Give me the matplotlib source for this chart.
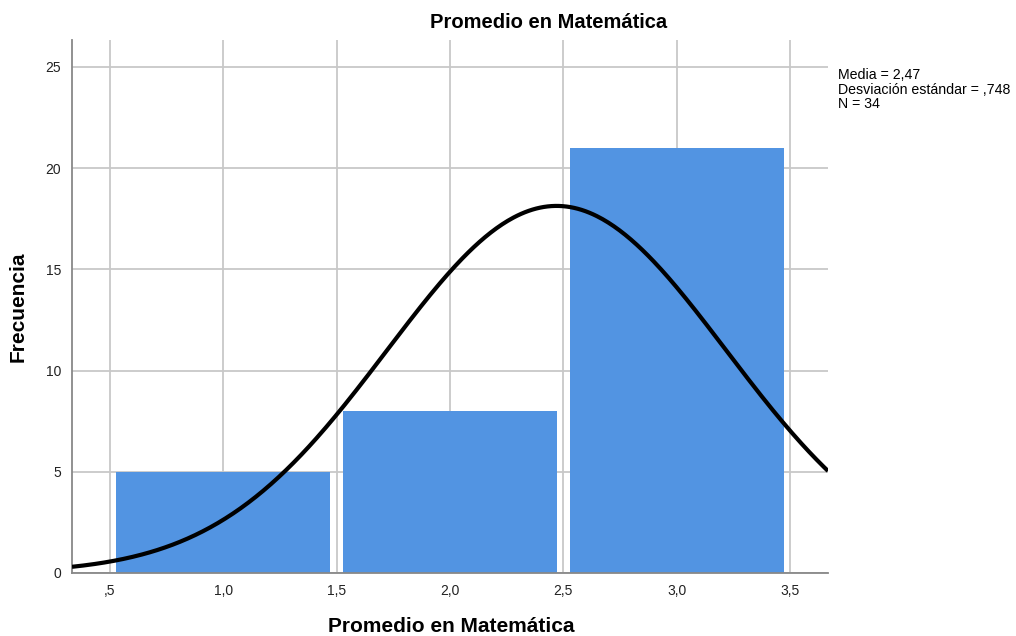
import numpy as np
import matplotlib
matplotlib.use("Agg")
import matplotlib.pyplot as plt

plt.rcParams['font.family'] = ['Liberation Sans', 'DejaVu Sans']

bin_centers = [1.0, 2.0, 3.0]
counts = [5, 8, 21]
mean = 2.47
sd = 0.748
n = 34
bin_width = 1.0
xticks = [0.5, 1.0, 1.5, 2.0, 2.5, 3.0, 3.5]
xticklabels = [",5", "1,0", "1,5", "2,0", "2,5", "3,0", "3,5"]
yticks = [0, 5, 10, 15, 20, 25]
stats_text = "Media = 2,47\nDesviación estándar = ,748\nN = 34"

fig = plt.figure(figsize=(10.16, 6.36), dpi=100)
ax = fig.add_axes([72/1016, 1-573/636, (828-72)/1016, (573-40)/636])

ax.bar(bin_centers, counts, width=bin_width*0.945, color='#5294E2', zorder=2)

xs = np.linspace(0.333, 3.667, 400)
ys = n * bin_width / (sd * np.sqrt(2*np.pi)) * np.exp(-0.5*((xs-mean)/sd)**2)
ax.plot(xs, ys, color='black', lw=3, zorder=3, solid_capstyle='butt')

ax.set_xlim(0.333, 3.667)
ax.set_ylim(0, 26.33)
ax.set_xticks(xticks)
ax.set_xticklabels(xticklabels)
ax.set_yticks(yticks)
ax.grid(True, color='#c8c8c8', lw=1.3, zorder=0)
ax.set_axisbelow(True)
for s in ['top', 'right']:
    ax.spines[s].set_visible(False)
for s in ['left', 'bottom']:
    ax.spines[s].set_color('#888888')
    ax.spines[s].set_linewidth(1.3)
ax.tick_params(length=0, labelsize=10, colors='#222222', pad=8)

fig.text(549/1016, 1-22/636, "Promedio en Matemática", fontsize=14.5, fontweight='bold',
         ha='center', va='center')
fig.text(451/1016, 1-626/636, "Promedio en Matemática", fontsize=15, fontweight='bold',
         ha='center', va='center')
fig.text(18/1016, 1-307/636, "Frecuencia", fontsize=15, fontweight='bold',
         ha='center', va='center', rotation=90)

fig.text(838/1016, 1-68/636, stats_text, fontsize=10.2, va='top', ha='left', linespacing=1.06)

fig.savefig("out.png", dpi=100)
